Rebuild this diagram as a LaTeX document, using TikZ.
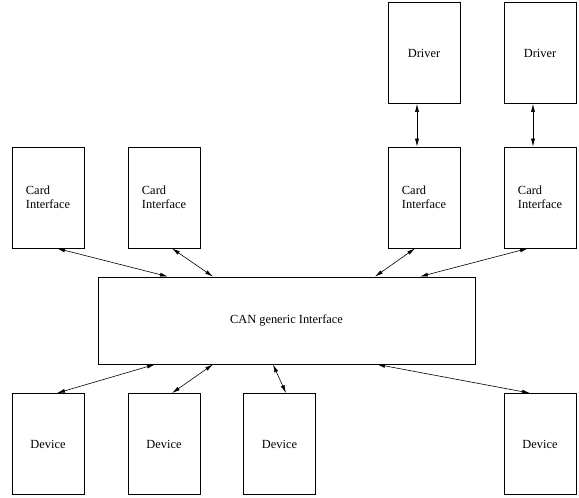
\documentclass[tikz,border=0pt]{standalone}
\usepackage{fontspec}
\setmainfont{Liberation Serif}
\usetikzlibrary{arrows.meta}

\begin{document}
\begin{tikzpicture}[x=1pt,y=-1pt,
		box/.style={draw, line width=0.8pt, minimum width=72pt, minimum height=101pt, inner sep=0pt, align=left, font=\fontsize{12.4}{14}\selectfont},
		link/.style={{Latex[length=8pt,width=4pt]}-{Latex[length=8pt,width=4pt]}, line width=0.6pt}]
					\useasboundingbox (0,0) rectangle (579,498);
					
					\node[box] (drv1) at (424,53) {Driver};
					\node[box] (drv2) at (540,53) {Driver};
					
					\node[box] (card1) at (48,197.5) {Card\\Interface};
					\node[box] (card2) at (164,197.5) {Card\\Interface};
					\node[box] (card3) at (424,197.5) {Card\\Interface};
					\node[box] (card4) at (540,197.5) {Card\\Interface};
					
					\node[box, minimum width=377pt, minimum height=87pt] (can) at (286.5,320.5) {CAN generic Interface};
					
					\node[box] (dev1) at (48,444) {Device};
					\node[box] (dev2) at (164,444) {Device};
					\node[box] (dev3) at (279.5,444) {Device};
					\node[box] (dev4) at (540,444) {Device};
					
					\begin{scope}[link]
						\draw ([xshift=-7pt]drv1.south) -- ([xshift=-7pt]card3.north);
						\draw ([xshift=-7pt]drv2.south) -- ([xshift=-7pt]card4.north);
					\end{scope}
					
					\begin{scope}[link]
						\draw ([xshift=9pt]card1.south) -- ([xshift=-118.5pt]can.north);
						\draw ([xshift=8pt]card2.south) -- ([xshift=-73.5pt]can.north);
						\draw ([xshift=-9pt]card3.south) -- ([xshift=88.5pt]can.north);
						\draw ([xshift=-12pt]card4.south) -- ([xshift=133.5pt]can.north);
					\end{scope}
					
					\begin{scope}[link]
						\draw ([xshift=-131.5pt]can.south) -- ([xshift=9pt]dev1.north);
						\draw ([xshift=-73.5pt]can.south) -- ([xshift=8pt]dev2.north);
						\draw ([xshift=-13.5pt]can.south) -- ([xshift=6.5pt]dev3.north);
						\draw ([xshift=90.5pt]can.south) -- ([xshift=-10pt]dev4.north);
					\end{scope}
				\end{tikzpicture}
\end{document}
